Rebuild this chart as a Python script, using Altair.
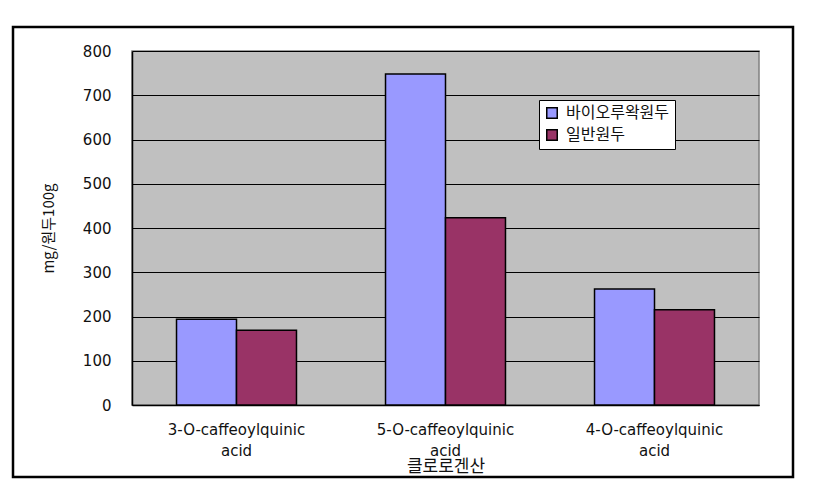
import altair as alt
import pandas as pd

categories = ["3-O-caffeoylquinic acid", "5-O-caffeoylquinic acid", "4-O-caffeoylquinic acid"]
series_names = ["바이오루왁원두", "일반원두"]
bio_values = [194, 748, 262]
normal_values = [169, 423, 215]
y_ticks = [0, 100, 200, 300, 400, 500, 600, 700, 800]
colors = ["#9999FF", "#993366"]

rows = []
for c, v in zip(categories, bio_values):
    rows.append({"cat": c, "series": series_names[0], "value": v})
for c, v in zip(categories, normal_values):
    rows.append({"cat": c, "series": series_names[1], "value": v})
df = pd.DataFrame(rows)

FONT = "DejaVu Sans, Noto Sans CJK KR"
KFONT = "Noto Sans CJK KR"

bars = alt.Chart(df).mark_bar(stroke="black", strokeWidth=1.5).encode(
    x=alt.X("cat:N", sort=categories,
            scale=alt.Scale(paddingInner=0.426, paddingOuter=0.213),
            axis=alt.Axis(title="클로로겐산", labelAngle=0, ticks=False,
                          domainColor="black", domainWidth=1.5,
                          labelExpr="split(datum.label, ' ')",
                          labelLineHeight=21, labelPadding=17, labelLimit=400,
                          labelFontSize=15, labelColor="#111", labelFont=FONT,
                          titleFontSize=17, titleFontWeight="normal", titleFont=KFONT,
                          titleBaseline="middle", titleY=61, titleColor="#111")),
    xOffset=alt.XOffset("series:N", sort=series_names,
                        scale=alt.Scale(paddingInner=0, paddingOuter=0)),
    y=alt.Y("value:Q", scale=alt.Scale(domain=[0, 800], nice=False),
            axis=alt.Axis(title="mg/원두100g", values=y_ticks, ticks=False,
                          domainColor="black", domainWidth=1.5,
                          gridColor="black", gridWidth=1.2,
                          labelFontSize=15, labelPadding=21, labelColor="#111",
                          labelFont=FONT,
                          titleFontSize=15, titleFontWeight="normal", titleFont=KFONT,
                          titleX=-84, titleY=177, titleBaseline="middle",
                          titleColor="#111")),
    color=alt.Color("series:N", sort=series_names,
                    scale=alt.Scale(domain=series_names, range=colors),
                    legend=alt.Legend(title=None, orient="none",
                                      legendX=407, legendY=49,
                                      symbolType="square", symbolSize=110,
                                      symbolStrokeColor="black", symbolStrokeWidth=1.5,
                                      labelFontSize=16, labelColor="#111", labelFont=KFONT,
                                      fillColor="white", strokeColor="black",
                                      padding=5, rowPadding=4, labelOffset=6)),
)

frame = alt.Chart(alt.Data(values=[{"a": 1}])).mark_rect(
    fill="transparent", stroke="black", strokeWidth=2.5
).encode(
    x=alt.value(-119), x2=alt.value(661), y=alt.value(-24), y2=alt.value(426)
)

chart = alt.layer(bars, frame).properties(
    width=627, height=354,
    autosize=alt.AutoSizeParams(type="none"),
    padding={"left": 124, "top": 43, "right": 50, "bottom": 74},
).configure(
    font=FONT,
    view=alt.ViewConfig(fill="#C0C0C0", stroke="#808080", strokeWidth=1.5),
)

chart.save("out.html", embed_options={"renderer": "svg", "actions": False})
